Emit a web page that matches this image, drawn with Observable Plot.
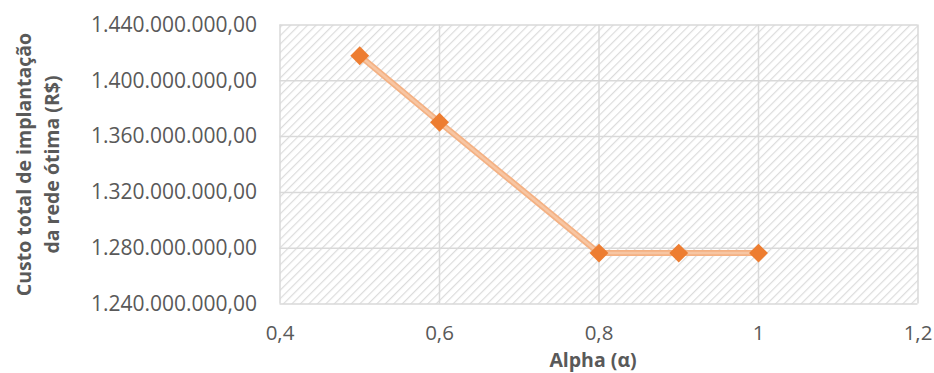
<!DOCTYPE html>
<html>
<head>
<meta charset="utf-8">
<script src="https://cdn.jsdelivr.net/npm/d3@7"></script>
<script src="https://cdn.jsdelivr.net/npm/@observablehq/plot@0.6"></script>
<style>
  html, body { margin: 0; padding: 0; background: #ffffff; }
  #chart { width: 934px; height: 373px; }
</style>
</head>
<body>
<div id="chart"></div>
<script>
// Data
const alpha = [0.5, 0.6, 0.8, 0.9, 1.0];
const custo = [1418000000, 1370300000, 1276500000, 1276500000, 1276500000];
const xTicks = [0.4, 0.6, 0.8, 1.0, 1.2];
const yTicks = [1240000000, 1280000000, 1320000000, 1360000000, 1400000000, 1440000000];
const xTitle = "Alpha (α)";
const yTitle = "Custo total de implantação\nda rede ótima (R$)";

const data = alpha.map((a, i) => ({alpha: a, custo: custo[i]}));

const ptBR = d3.formatLocale({decimal: ",", thousands: ".", grouping: [3], currency: ["R$", ""]});
const fmtY = ptBR.format(",.2f");
const fmtX = ptBR.format("~g");

const textColor = "#595959";
const gridColor = "#d9d9d9";
const font = "'Open Sans', Lato, sans-serif";

const chart = Plot.plot({
  width: 934,
  height: 373,
  marginLeft: 279.5,
  marginRight: 16.5,
  marginTop: 24.5,
  marginBottom: 69.5,
  style: {fontFamily: font, background: "#ffffff", color: textColor},
  x: {domain: [0.4, 1.2], ticks: xTicks, tickFormat: fmtX},
  y: {domain: [1240000000, 1440000000], ticks: yTicks, tickFormat: fmtY},
  marks: [
    Plot.frame({fill: "url(#hatch)", stroke: "none"}),
    Plot.gridX(xTicks, {stroke: gridColor, strokeOpacity: 1, strokeWidth: 1.5}),
    Plot.gridY(yTicks, {stroke: gridColor, strokeOpacity: 1, strokeWidth: 1.5}),
    Plot.axisY(yTicks, {tickSize: 0, tickPadding: 23, tickFormat: fmtY, fontSize: 21, fill: textColor, label: null}),
    Plot.axisX(xTicks, {tickSize: 0, tickPadding: 21, tickFormat: fmtX, fontSize: 20.5, fill: textColor, label: null}),
    Plot.line(data, {x: "alpha", y: "custo", stroke: "#F4B183", strokeWidth: 6, strokeLinejoin: "round"}),
    Plot.line(data, {x: "alpha", y: "custo", stroke: "#F7C6A3", strokeWidth: 2.5, strokeLinejoin: "round"}),
    Plot.dot(data, {x: "alpha", y: "custo", symbol: "diamond2", r: 8.5, fill: "#ED7D31", stroke: "none"}),
    Plot.text([xTitle], {frameAnchor: "bottom", dy: 63, text: d => d, fontSize: 19.5, fontWeight: "bold", fill: textColor, dx: -6}),
    Plot.text([yTitle], {frameAnchor: "left", dx: -244, rotate: -90, textAnchor: "middle", text: d => d, fontSize: 19.5, fontWeight: "bold", fill: textColor, lineHeight: 1.45})
  ]
});

// hatched background pattern
const ns = "http://www.w3.org/2000/svg";
const defs = document.createElementNS(ns, "defs");
defs.innerHTML = `
  <pattern id="hatch" patternUnits="userSpaceOnUse" width="6" height="6" patternTransform="rotate(45)">
    <rect width="6" height="6" fill="#ffffff"></rect>
    <line x1="0" y1="0" x2="0" y2="6" stroke="#dcdcdc" stroke-width="2.4"></line>
  </pattern>`;
chart.insertBefore(defs, chart.firstChild);

document.getElementById("chart").appendChild(chart);
</script>
</body>
</html>
